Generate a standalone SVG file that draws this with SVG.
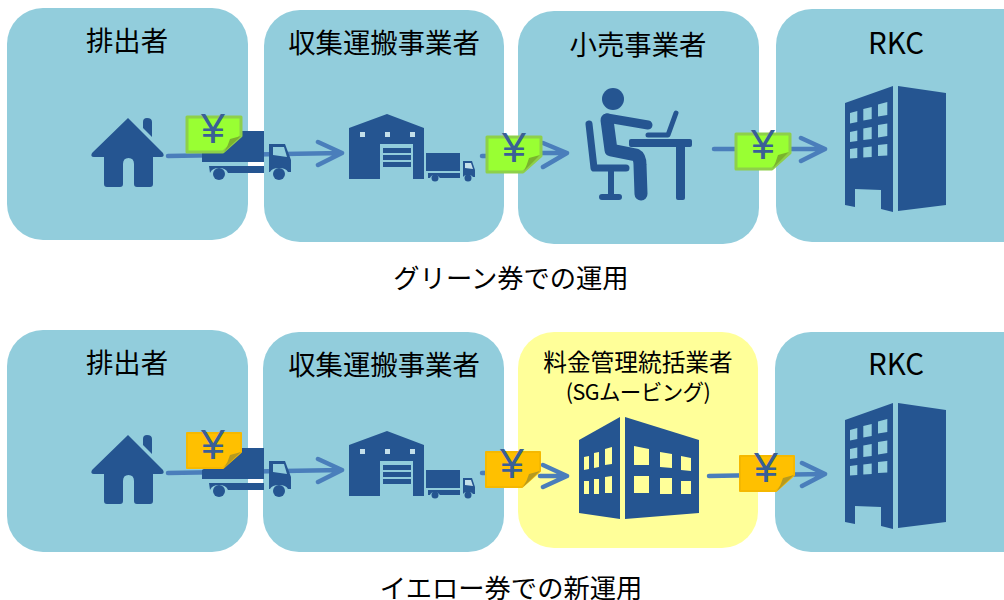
<svg xmlns="http://www.w3.org/2000/svg" width="1004" height="600" viewBox="0 0 1004 600">
<style>
.box{fill:#92cddc}
.yel{fill:#ffff99}
.ic{fill:#255591}
.icl{fill:none;stroke:#255591;stroke-linecap:round;stroke-linejoin:round}
.t{font-family:"Noto Sans CJK JP","Noto Sans",sans-serif;fill:#000;text-anchor:middle}
.l{font-size:27.4px}
.r{font-size:29.5px}
.c{font-size:26.300px}
.y{font-family:"Liberation Sans",sans-serif;font-size:43px;fill:#3a5f96;text-anchor:middle}
.a{fill:none;stroke:#4a7ebb;stroke-width:4.5;stroke-linecap:round;stroke-linejoin:round}
.gn{fill:#99ff33;stroke:#8ed04a;stroke-width:3;stroke-linejoin:round}
.gf{fill:#7ab32e}
.on{fill:#ffc000;stroke:#f5b800;stroke-width:2;stroke-linejoin:round}
.of{fill:#b59a20}
</style>
<defs>
<g id="house" class="ic">
<path d="M128 118L163 153Q165 157 161 157H153V184Q153 187 150 187H137Q134 187 134 184V164Q134 158 128.500 158Q123 158 123 164V184Q123 187 120 187H107Q104 187 104 184V157H94Q90 157 92 153Z"/>
<path d="M143 122Q143 118 147 118Q152 118 152 122V137L143 128Z"/>
</g>
<g id="truck">
<path class="ic" d="M202 162V153L241 131H264V162Z"/>
<path class="ic" d="M209 166H264V173H228Q226 168 219 168Q212 168 210 173Z"/>
<circle class="ic" cx="219" cy="174" r="6"/>
<path class="ic" d="M269 144H285L291 160V172H288Q286 168 279 168Q272 168 270 172H269Z"/>
<path fill="#92cddc" d="M273 147H284L287 157L273 155Z"/>
<circle class="ic" cx="279" cy="174" r="6"/>
</g>
<g id="warehouse">
<path class="ic" d="M387 114L424 128V179H413V144H380V179H349V128Z"/>
<rect class="ic" x="383" y="148" width="28" height="5"/>
<rect class="ic" x="383" y="155" width="28" height="5"/>
<rect class="ic" x="383" y="162" width="28" height="5"/>
<rect x="360" y="132" width="5" height="5" fill="#c4dfea"/>
<rect x="385" y="132" width="5" height="5" fill="#c4dfea"/>
<rect x="410" y="132" width="5" height="5" fill="#c4dfea"/>
<rect class="ic" x="426" y="153" width="34" height="18"/>
<path class="ic" d="M428 173H460V178H440Q438 175 435 175Q431 175 430 178H428Z"/>
<circle class="ic" cx="435" cy="178" r="3.500"/>
<path class="ic" d="M463 161H472L475 170V177H473Q472 175 468 175Q464 175 463 177Z"/>
<path fill="#c4dfea" d="M465 163H471L473 169L465 168Z"/>
<circle class="ic" cx="468" cy="178" r="3.500"/>
</g>
<g id="tower">
<path class="ic" d="M845 103L893 86V212L881 209V190L855 189V207L845 205Z"/>
<path class="ic" d="M898 86L946 93V205L898 211Z"/>
<g fill="#92cddc">
<path d="M850 113L857.300 111V122L850 123.500Z"/>
<path d="M863.300 109L871.700 107V119L863.300 120.500Z"/>
<path d="M878 104.500L887.300 102V115L878 116.500Z"/>
<path d="M850 132L857.300 130.500V141L850 142Z"/>
<path d="M863.300 128.500L871.700 127V139L863.300 140Z"/>
<path d="M878 125L887.300 123.500V136L878 137.500Z"/>
<path d="M850 149L857.300 148V158L850 158.500Z"/>
<path d="M863.300 147.500L871.700 146.500V157L863.300 157.500Z"/>
<path d="M878 145L887.300 144V155.500L878 156Z"/>
</g>
</g>
<path id="yenNote" d="M0 0H54V19L36 35H0Z"/>
</defs>

<g id="top-row">
<g id="t-emitter"><rect class="box" x="7" y="8" width="241" height="232" rx="36"/><text class="t l" x="127" y="51">排出者</text></g>
<g id="t-collector"><rect class="box" x="264" y="10" width="240" height="232" rx="36"/><text class="t l" x="384" y="53">収集運搬事業者</text></g>
<g id="t-retailer"><rect class="box" x="518" y="11" width="241" height="233" rx="36"/><text class="t l" x="638" y="55">小売事業者</text></g>
<g id="t-rkc"><rect class="box" x="776" y="9" width="268" height="233" rx="36"/><text class="t r" x="896" y="54">RKC</text></g>
</g>
<g id="bottom-row">
<g id="b-emitter"><rect class="box" x="7" y="330" width="241" height="222" rx="36"/><text class="t l" x="127" y="373">排出者</text></g>
<g id="b-collector"><rect class="box" x="263" y="332" width="241" height="220" rx="36"/><text class="t l" x="384" y="375">収集運搬事業者</text></g>
<g id="b-manager"><rect class="yel" x="518" y="332" width="240" height="216" rx="36"/>
<text class="t" font-size="23.700" x="638" y="371">料金管理統括業者</text>
<text class="t" font-size="21.500" letter-spacing="-0.6" x="638" y="400">(SGムービング)</text></g>
<g id="b-rkc"><rect class="box" x="775" y="332" width="269" height="220" rx="36"/><text class="t r" x="896" y="375">RKC</text></g>
</g>

<g id="connectors">
<path class="a" d="M168 156L342 153M318 142L342 153L318 165"/>
<path class="a" d="M482 156H487M543 143L567 153L543 167M540 153H567"/>
<path class="a" d="M714 149H825M801 138L825 149L801 161"/>
<path class="a" d="M168 473L342 470M318 459L342 470L318 482"/>
<path class="a" d="M482 473H487M540 476H567M543 465L567 476L543 487"/>
<path class="a" d="M709 476L825 474M802 463L825 474L802 486"/>
</g>

<g id="icons-top">
<use href="#house"/>
<use href="#truck"/>
<use href="#warehouse"/>
<g id="person">
<circle class="ic" cx="613" cy="99" r="11"/>
<path class="icl" stroke-width="7" d="M589 124L594 168H626"/>
<path class="icl" stroke-width="6" d="M611 170V196M602 197H619"/>
<path class="icl" stroke-width="13" d="M607 120L611 150L636 155Q640 157 640 165L641 194"/>
<path class="icl" stroke-width="9" d="M607 118L648 125"/>
<path class="icl" stroke-width="5" d="M648 135H668L676 113"/>
<rect class="ic" x="629" y="139" width="63" height="8" rx="2"/>
<rect class="ic" x="676" y="145" width="9" height="55" rx="2"/>
</g>
<use href="#tower"/>
</g>

<g id="icons-bottom">
<use href="#house" y="317"/>
<use href="#truck" y="317"/>
<use href="#warehouse" y="317"/>
<g id="sg-building">
<path class="ic" d="M579 440L620 417V519L579 513Z"/>
<path class="ic" d="M625 417L699 440V513L625 519Z"/>
<g class="yel">
<path d="M584 457L589 456V469L584 470Z"/>
<path d="M594 453L599 452V467L594 468Z"/>
<path d="M605 449L612 447V464L605 465Z"/>
<path d="M584 481L589 481V494L584 494Z"/>
<path d="M594 479L599 479V494L594 494Z"/>
<path d="M605 477L612 476V493L605 493Z"/>
<path d="M634 446L649 449V465L634 465Z"/>
<path d="M660 452L672 454V468L660 467Z"/>
<path d="M681 456L691 458V471L681 470Z"/>
<path d="M634 476H649V493H634Z"/>
<path d="M660 478H672V494H660Z"/>
<path d="M681 481H691V494H681Z"/>
</g>
</g>
<use href="#tower" y="317"/>
</g>

<g id="notes">
<g id="note-g1"><use href="#yenNote" class="gn" x="187" y="117"/><path class="gf" d="M224 152L241 136L230 139Q228 146 224 152Z"/><text class="y" x="213" y="143">¥</text></g>
<g id="note-g2"><use href="#yenNote" class="gn" x="487" y="137"/><path class="gf" d="M524 171L540 155L529 158Q527 165 524 171Z"/><text class="y" x="514" y="162">¥</text></g>
<g id="note-g3"><use href="#yenNote" class="gn" x="736" y="134"/><path class="gf" d="M773 168L789 152L778 155Q776 162 773 168Z"/><text class="y" x="763" y="159">¥</text></g>
<g id="note-y1"><use href="#yenNote" class="on" x="187" y="433"/><path class="of" d="M224 468L241 452L230 455Q228 462 224 468Z"/><text class="y" x="213" y="459">¥</text></g>
<g id="note-y2"><use href="#yenNote" class="on" x="486" y="452"/><path class="of" d="M523 487L540 471L529 474Q527 481 523 487Z"/><text class="y" x="512" y="478">¥</text></g>
<g id="note-y3"><use href="#yenNote" class="on" x="740" y="456"/><path class="of" d="M777 491L794 475L783 478Q781 485 777 491Z"/><text class="y" x="766" y="482">¥</text></g>
</g>

<text class="t c" x="511" y="288">グリーン券での運用</text>
<text class="t c" x="511" y="598">イエロー券での新運用</text>
</svg>
